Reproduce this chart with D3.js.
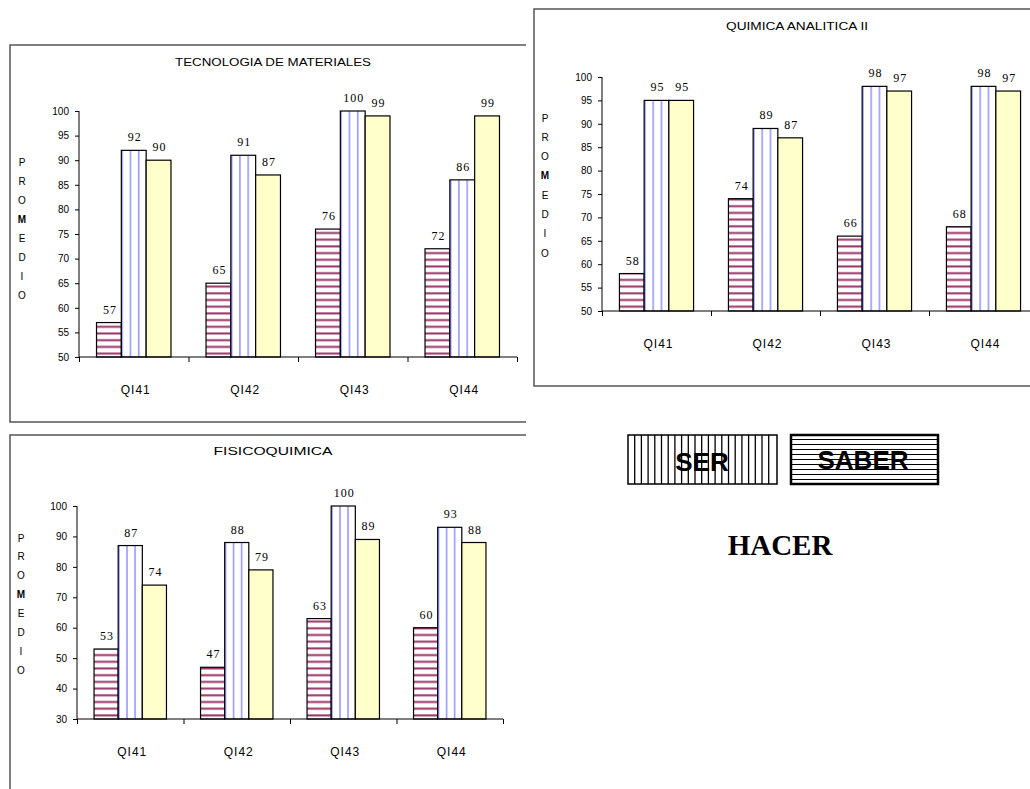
<!DOCTYPE html>
<html>
<head>
<meta charset="utf-8">
<script src="https://cdn.jsdelivr.net/npm/d3@7"></script>
<style>
  body { margin: 0; background: #fff; }
  svg { display: block; }
  .tick text { font-family: 'Liberation Sans', Arial, sans-serif; font-size: 10px; fill: #000; }
  .tick line, .domain { stroke: #000; stroke-width: 1; }
</style>
</head>
<body>
<div id="chart"></div>
<script>
const categories = ['QI41', 'QI42', 'QI43', 'QI44']
const seriesNames = ['SABER', 'SER', 'HACER']
const promedioLetters = ['P', 'R', 'O', 'M', 'E', 'D', 'I', 'O']

// TECNOLOGIA DE MATERIALES
const tecSaber = [57, 65, 76, 72]
const tecSer = [92, 91, 100, 86]
const tecHacer = [90, 87, 99, 99]
const tecTicks = [50, 55, 60, 65, 70, 75, 80, 85, 90, 95, 100]

// QUIMICA ANALITICA II
const quiSaber = [58, 74, 66, 68]
const quiSer = [95, 89, 98, 98]
const quiHacer = [95, 87, 97, 97]
const quiTicks = [50, 55, 60, 65, 70, 75, 80, 85, 90, 95, 100]

// FISICOQUIMICA
const fisSaber = [53, 47, 63, 60]
const fisSer = [87, 88, 100, 93]
const fisHacer = [74, 79, 89, 88]
const fisTicks = [30, 40, 50, 60, 70, 80, 90, 100]

const width = 1030
const height = 789

const svg = d3.select('#chart').append('svg').attr('width', width).attr('height', height)
const defs = svg.append('defs')

// horizontal maroon stripes (SABER)
const pSaber = defs.append('pattern').attr('id', 'pSaber')
  .attr('patternUnits', 'userSpaceOnUse').attr('width', 8).attr('height', 6.7)
pSaber.append('rect').attr('width', 8).attr('height', 6.7).attr('fill', '#fff')
pSaber.append('rect').attr('y', 4.2).attr('width', 8).attr('height', 2).attr('fill', '#993366')

// vertical light blue stripes (SER)
const pSer = defs.append('pattern').attr('id', 'pSer')
  .attr('patternUnits', 'objectBoundingBox').attr('width', 1 / 3).attr('height', 1)
pSer.append('rect').attr('width', 30).attr('height', 400).attr('fill', '#fff')
pSer.append('rect').attr('x', 0).attr('width', 1.6).attr('height', 400).attr('fill', '#9999ff')

const fills = { SABER: 'url(#pSaber)', SER: 'url(#pSer)', HACER: '#ffffcc' }

function drawChart(cfg) {
  const g = svg.append('g')

  g.append('path').attr('d', cfg.frame)
    .attr('fill', 'none').attr('stroke', '#555').attr('stroke-width', 1.5)

  g.append('text').text(cfg.title)
    .attr('x', cfg.titleX).attr('y', cfg.titleY)
    .attr('text-anchor', 'middle')
    .attr('textLength', cfg.titleLen).attr('lengthAdjust', 'spacingAndGlyphs')
    .style('font-family', 'Liberation Sans, Arial, sans-serif').style('font-size', '10px')

  g.selectAll('text.prom').data(promedioLetters).join('text').attr('class', 'prom')
    .attr('x', cfg.promX).attr('y', (d, i) => cfg.promY0 + i * cfg.promStep)
    .attr('text-anchor', 'middle').attr('dy', '0.35em')
    .style('font-family', 'Liberation Sans, Arial, sans-serif').style('font-size', '10px')
    .style('font-weight', (d, i) => (i === 3 ? 'bold' : 'normal'))
    .text((d) => d)

  const x = d3.scaleBand().domain(categories).range([cfg.x0, cfg.x1])
    .paddingInner(0.32).paddingOuter(0.16)
  const xs = d3.scaleBand().domain(seriesNames).range([0, x.bandwidth()])
  const y = d3.scaleLinear().domain([cfg.ticks[0], cfg.ticks[cfg.ticks.length - 1]]).range([cfg.yBottom, cfg.yTop])
  const edges = d3.scaleLinear().domain([0, categories.length]).range([cfg.x0, cfg.x1])

  const rows = categories.map((c, i) => ({ cat: c, SABER: cfg.saber[i], SER: cfg.ser[i], HACER: cfg.hacer[i] }))

  const groups = g.selectAll('g.grp').data(rows).join('g').attr('class', 'grp')
    .attr('transform', (d) => `translate(${x(d.cat)},0)`)

  groups.selectAll('rect').data((d) => seriesNames.map((s) => ({ s, v: d[s] }))).join('rect')
    .attr('x', (d) => xs(d.s)).attr('width', xs.bandwidth())
    .attr('y', (d) => y(d.v)).attr('height', (d) => y(cfg.ticks[0]) - y(d.v))
    .attr('fill', (d) => fills[d.s]).attr('stroke', '#000').attr('stroke-width', 1.2)

  groups.selectAll('text').data((d) => seriesNames.map((s) => ({ s, v: d[s] }))).join('text')
    .attr('x', (d) => xs(d.s) + xs.bandwidth() / 2 + 1)
    .attr('y', (d) => y(d.v) - 9)
    .attr('text-anchor', 'middle')
    .style('font-family', 'Liberation Serif, Times New Roman, serif').style('font-size', '12px')
    .style('letter-spacing', '1px')
    .text((d) => d.v)

  const yAxis = g.append('g').attr('transform', `translate(${cfg.x0},0)`)
    .call(d3.axisLeft(y).tickValues(cfg.ticks).tickSize(4).tickPadding(6).tickFormat(d3.format('d')))
  yAxis.select('.domain').attr('d', `M0,${cfg.yTop}V${cfg.yBottom}`)

  const xAxis = g.append('g').attr('transform', `translate(0,${cfg.yBottom})`)
    .call(d3.axisBottom(edges).tickValues(d3.range(categories.length + 1)).tickSize(5).tickFormat(''))
  xAxis.select('.domain').attr('d', `M${cfg.x0},0H${cfg.x1}`)

  g.selectAll('text.cat').data(categories).join('text').attr('class', 'cat')
    .attr('x', (d) => x(d) + x.bandwidth() / 2 + 2).attr('y', cfg.yBottom + 37)
    .attr('text-anchor', 'middle')
    .style('font-family', 'Liberation Sans, Arial, sans-serif').style('font-size', '12px')
    .style('letter-spacing', '1px')
    .text((d) => d)
}

drawChart({
  title: 'TECNOLOGIA DE MATERIALES', titleX: 273, titleY: 66, titleLen: 196,
  frame: 'M526,45H10V422H526',
  saber: tecSaber, ser: tecSer, hacer: tecHacer, ticks: tecTicks,
  x0: 79, x1: 517, yTop: 111, yBottom: 357,
  promX: 22, promY0: 162, promStep: 19
})

drawChart({
  title: 'QUIMICA ANALITICA II', titleX: 797, titleY: 30, titleLen: 142,
  frame: 'M1040,9H534V386H1040',
  saber: quiSaber, ser: quiSer, hacer: quiHacer, ticks: quiTicks,
  x0: 602, x1: 1038, yTop: 77, yBottom: 311,
  promX: 545, promY0: 118, promStep: 19.3
})

drawChart({
  title: 'FISICOQUIMICA', titleX: 273, titleY: 455, titleLen: 119,
  frame: 'M526,435H10V800',
  saber: fisSaber, ser: fisSer, hacer: fisHacer, ticks: fisTicks,
  x0: 77, x1: 503, yTop: 506, yBottom: 719,
  promX: 21, promY0: 538, promStep: 18.9
})

// legend
const legend = svg.append('g')
const serBox = { x: 628, y: 435, w: 149, h: 49 }
const saberBox = { x: 791, y: 435, w: 147, h: 49 }

legend.append('rect').attr('x', serBox.x).attr('y', serBox.y).attr('width', serBox.w).attr('height', serBox.h)
  .attr('fill', '#fff').attr('stroke', '#000').attr('stroke-width', 1.5)
legend.selectAll('line.v').data(d3.range(serBox.x + 6.7, serBox.x + serBox.w - 2, 6.7)).join('line').attr('class', 'v')
  .attr('x1', (d) => d).attr('x2', (d) => d).attr('y1', serBox.y).attr('y2', serBox.y + serBox.h)
  .attr('stroke', '#000').attr('stroke-width', 1.3)
legend.append('text').text('SER').attr('x', serBox.x + 74).attr('y', serBox.y + 36)
  .attr('text-anchor', 'middle')
  .style('font-family', 'Liberation Sans, Arial, sans-serif').style('font-size', '26px').style('font-weight', 'bold')

legend.append('rect').attr('x', saberBox.x).attr('y', saberBox.y).attr('width', saberBox.w).attr('height', saberBox.h)
  .attr('fill', '#fff').attr('stroke', '#000').attr('stroke-width', 2.5)
legend.selectAll('line.h').data(d3.range(saberBox.y + 4.5, saberBox.y + saberBox.h - 1, 5)).join('line').attr('class', 'h')
  .attr('x1', saberBox.x).attr('x2', saberBox.x + saberBox.w).attr('y1', (d) => d).attr('y2', (d) => d)
  .attr('stroke', '#000').attr('stroke-width', 1.2)
legend.append('text').text('SABER').attr('x', saberBox.x + 72).attr('y', saberBox.y + 34)
  .attr('text-anchor', 'middle')
  .style('font-family', 'Liberation Sans, Arial, sans-serif').style('font-size', '26px').style('font-weight', 'bold')

legend.append('text').text('HACER').attr('x', 780).attr('y', 555)
  .attr('text-anchor', 'middle')
  .style('font-family', 'Liberation Serif, Times New Roman, serif').style('font-size', '29px').style('font-weight', 'bold')
</script>
</body>
</html>
